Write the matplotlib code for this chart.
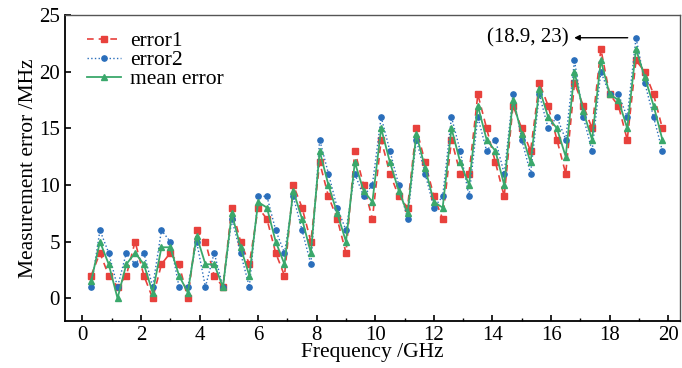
import numpy as np
import matplotlib
matplotlib.use("Agg")
import matplotlib.pyplot as plt
from matplotlib.ticker import MultipleLocator

# frequency points (GHz)
freq = [round(0.3 * k, 1) for k in range(1, 67)]

error1 = [2, 4, 2, 1, 2, 5, 2, 0, 3, 4, 3, 0, 6, 5, 2, 1, 8, 5, 3, 8,
          7, 4, 2, 10, 8, 5, 12, 9, 7, 4, 13, 10, 7, 14, 11, 9, 8, 15, 12, 9,
          7, 14, 11, 11, 18, 15, 12, 9, 17, 15, 13, 19, 17, 14, 11, 19, 17, 15, 22, 18,
          17, 14, 21, 20, 18, 15]
error2 = [1, 6, 4, 1, 4, 3, 4, 1, 6, 5, 1, 1, 5, 1, 4, 1, 7, 4, 1, 9,
          9, 6, 4, 9, 6, 3, 14, 11, 8, 6, 11, 9, 10, 16, 13, 10, 7, 14, 11, 8,
          9, 16, 13, 9, 16, 13, 14, 11, 18, 14, 11, 18, 15, 16, 14, 21, 16, 13, 20, 18,
          18, 16, 23, 19, 16, 13]
mean_error = [1.5, 5, 3, 0, 3, 4, 3, 0.5, 4.5, 4.5, 2, 0.5, 5.5, 3, 3, 1, 7.5, 4.5, 2, 8.5,
              8, 5, 3, 9.5, 7, 4, 13, 10, 7.5, 5, 12, 9.5, 8.5, 15, 12, 9.5, 7.5, 14.5, 11.5, 8.5,
              8, 15, 12, 10, 17, 14, 13, 10, 17.5, 14.5, 12, 18.5, 16, 15, 12.5, 20, 16.5, 14, 21, 18,
              17.5, 15, 22, 19.5, 17, 14]

plt.rcParams['font.family'] = ['Liberation Serif', 'DejaVu Serif']

fig = plt.figure(figsize=(6.82, 3.68), dpi=100)
ax = fig.add_axes([0.095, 0.128, 0.902, 0.831])

red = '#e8413c'
blue = '#2a6ebb'
green = '#3aa86b'

ax.plot(freq, error1, color=red, linestyle=(0, (4, 3)), linewidth=1.2,
        marker='s', markersize=3.8, label='error1')
ax.plot(freq, error2, color=blue, linestyle=':', linewidth=1.0,
        marker='o', markersize=3.8, label='error2')
ax.plot(freq, mean_error, color=green, linestyle='-', linewidth=1.3,
        marker='^', markersize=3.8, label='mean error')

# label for the maximum point, arrow pointing back to the text
ax.annotate('(18.9, 23)', xy=(18.9, 23), xytext=(16.6, 23),
            ha='right', va='center', fontsize=15,
            arrowprops=dict(arrowstyle='<|-', color='black', lw=1.0,
                            shrinkA=2, shrinkB=6, mutation_scale=8))

ax.set_xlim(-0.6, 20.4)
ax.set_ylim(-2, 25)
ax.xaxis.set_major_locator(MultipleLocator(2))
ax.xaxis.set_minor_locator(MultipleLocator(1))
ax.yaxis.set_major_locator(MultipleLocator(5))
ax.tick_params(axis='both', which='both', direction='in', labelsize=15)
ax.tick_params(which='major', length=4, width=1.2)
ax.tick_params(which='minor', length=2.5, width=1.0)
for side in ['left', 'bottom']:
    ax.spines[side].set_linewidth(1.3)
for side in ['top', 'right']:
    ax.spines[side].set_linewidth(1.0)
    ax.spines[side].set_color('#555555')

ax.set_xlabel('Frequency /GHz', fontsize=15.5, labelpad=-1)
ax.set_ylabel('Measurement error /MHz', fontsize=15.5, labelpad=1)

ax.legend(loc='upper left', frameon=False, fontsize=15.5, handlelength=1.6,
          handletextpad=0.4, labelspacing=-0.05, borderaxespad=0.2,
          bbox_to_anchor=(0.015, 0.99))

fig.savefig('out.png', dpi=100)
